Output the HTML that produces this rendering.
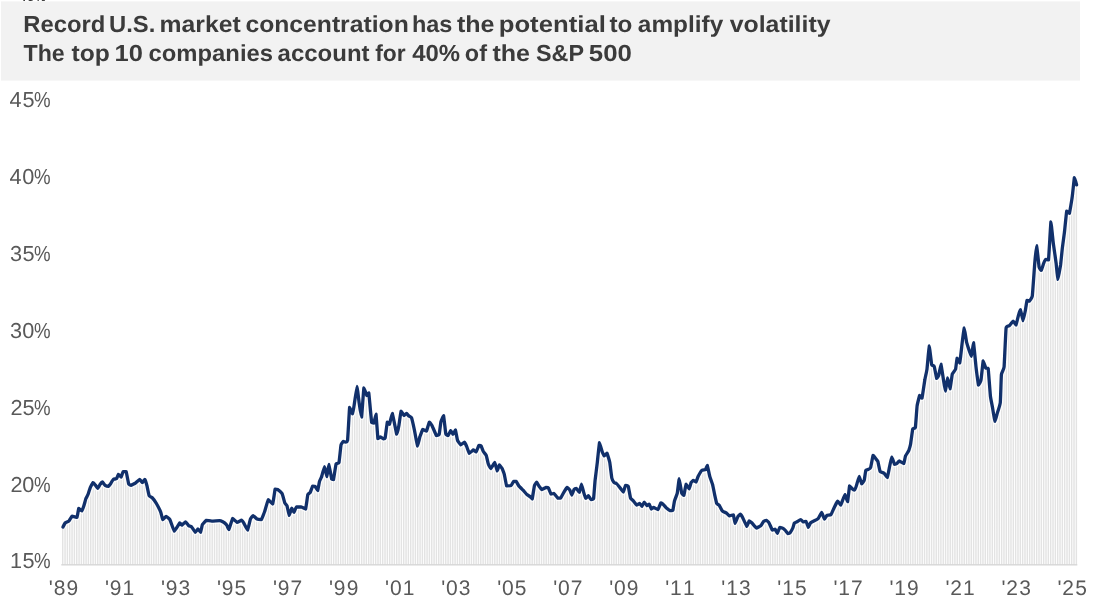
<!DOCTYPE html>
<html lang="en"><head><meta charset="utf-8"><title>Record U.S. market concentration</title>
<style>
html,body{margin:0;padding:0;background:#fff;}
body{width:1093px;height:608px;overflow:hidden;}
svg{display:block;}
text{font-family:"Liberation Sans",sans-serif;text-rendering:geometricPrecision;}
.ttl{font-size:23.2px;font-weight:bold;fill:#3b3b3b;}
.top{font-size:11.8px;font-weight:bold;fill:#333;}
.yl{font-size:21.7px;fill:#595959;}
.xl{font-size:21.0px;fill:#595959;}
</style></head><body>
<svg width="1093" height="608" viewBox="0 0 1093 608">
<rect x="0" y="0" width="1093" height="608" fill="#fff"/>
<text class="top" x="19.4 27.4 35.2" y="0.9">45%</text>
<rect x="1" y="1.4" width="1079" height="79.2" fill="#f2f2f2"/>
<text y="32.4" class="ttl"><tspan x="23.25" textLength="82.11" lengthAdjust="spacingAndGlyphs">Record</tspan> <tspan x="109.07" textLength="46.29" lengthAdjust="spacingAndGlyphs">U.S.</tspan> <tspan x="159.49" textLength="81.18" lengthAdjust="spacingAndGlyphs">market</tspan> <tspan x="245.41" textLength="163.32" lengthAdjust="spacingAndGlyphs">concentration</tspan> <tspan x="411.96" textLength="40.46" lengthAdjust="spacingAndGlyphs">has</tspan> <tspan x="456.95" textLength="37.63" lengthAdjust="spacingAndGlyphs">the</tspan> <tspan x="498.73" textLength="107.11" lengthAdjust="spacingAndGlyphs">potential</tspan> <tspan x="609.46" textLength="22.89" lengthAdjust="spacingAndGlyphs">to</tspan> <tspan x="637.87" textLength="85.38" lengthAdjust="spacingAndGlyphs">amplify</tspan> <tspan x="729.68" textLength="100.89" lengthAdjust="spacingAndGlyphs">volatility</tspan></text>
<text y="61.3" class="ttl"><tspan x="23.57" textLength="41.19" lengthAdjust="spacingAndGlyphs">The</tspan> <tspan x="71.45" textLength="38.32" lengthAdjust="spacingAndGlyphs">top</tspan> <tspan x="114.54" textLength="28.33" lengthAdjust="spacingAndGlyphs">10</tspan> <tspan x="148.55" textLength="124.51" lengthAdjust="spacingAndGlyphs">companies</tspan> <tspan x="277.58" textLength="91.95" lengthAdjust="spacingAndGlyphs">account</tspan> <tspan x="375.16" textLength="30.44" lengthAdjust="spacingAndGlyphs">for</tspan> <tspan x="412.24" textLength="47.89" lengthAdjust="spacingAndGlyphs">40%</tspan> <tspan x="464.86" textLength="22.11" lengthAdjust="spacingAndGlyphs">of</tspan> <tspan x="492.45" textLength="37.63" lengthAdjust="spacingAndGlyphs">the</tspan> <tspan x="536.01" textLength="47.63" lengthAdjust="spacingAndGlyphs">S&amp;P</tspan> <tspan x="588.83" textLength="43.07" lengthAdjust="spacingAndGlyphs">500</tspan></text>
<path fill="#e3e3e3" d="M62.00 564.8V527.0H63.44V564.8zM64.34 564.8V523.1H65.77V564.8zM66.67 564.8V521.9H68.11V564.8zM69.01 564.8V519.8H70.44V564.8zM71.34 564.8V516.3H72.78V564.8zM73.68 564.8V516.7H75.11V564.8zM76.01 564.8V517.2H77.45V564.8zM78.35 564.8V508.8H79.78V564.8zM80.68 564.8V510.6H82.12V564.8zM83.02 564.8V506.2H84.46V564.8zM85.36 564.8V498.3H86.79V564.8zM87.69 564.8V493.3H89.13V564.8zM90.03 564.8V486.7H91.46V564.8zM92.36 564.8V482.7H93.80V564.8zM94.70 564.8V485.1H96.13V564.8zM97.03 564.8V488.3H98.47V564.8zM99.37 564.8V484.4H100.81V564.8zM101.71 564.8V482.0H103.14V564.8zM104.04 564.8V484.9H105.48V564.8zM106.38 564.8V486.0H107.81V564.8zM108.71 564.8V485.1H110.15V564.8zM111.05 564.8V481.9H112.48V564.8zM113.38 564.8V479.2H114.82V564.8zM115.72 564.8V478.7H117.15V564.8zM118.05 564.8V474.7H119.49V564.8zM120.39 564.8V477.1H121.83V564.8zM122.73 564.8V471.6H124.16V564.8zM125.06 564.8V471.6H126.50V564.8zM127.40 564.8V481.4H128.83V564.8zM129.73 564.8V484.9H131.17V564.8zM132.07 564.8V484.4H133.50V564.8zM134.40 564.8V483.2H135.84V564.8zM136.74 564.8V481.3H138.17V564.8zM139.07 564.8V479.3H140.51V564.8zM141.41 564.8V482.4H142.85V564.8zM143.75 564.8V479.7H145.18V564.8zM146.08 564.8V485.3H147.52V564.8zM148.42 564.8V495.5H149.85V564.8zM150.75 564.8V497.2H152.19V564.8zM153.09 564.8V500.0H154.52V564.8zM155.42 564.8V503.1H156.86V564.8zM157.76 564.8V507.7H159.20V564.8zM160.10 564.8V512.3H161.53V564.8zM162.43 564.8V519.3H163.87V564.8zM164.77 564.8V516.9H166.20V564.8zM167.10 564.8V517.8H168.54V564.8zM169.44 564.8V520.3H170.87V564.8zM171.77 564.8V526.4H173.21V564.8zM174.11 564.8V530.4H175.54V564.8zM176.44 564.8V526.9H177.88V564.8zM178.78 564.8V523.4H180.22V564.8zM181.12 564.8V524.9H182.55V564.8zM183.45 564.8V523.1H184.89V564.8zM185.79 564.8V522.9H187.22V564.8zM188.12 564.8V525.8H189.56V564.8zM190.46 564.8V526.5H191.89V564.8zM192.79 564.8V529.7H194.23V564.8zM195.13 564.8V531.6H196.56V564.8zM197.46 564.8V529.2H198.90V564.8zM199.80 564.8V532.2H201.24V564.8zM202.14 564.8V524.1H203.57V564.8zM204.47 564.8V521.6H205.91V564.8zM206.81 564.8V520.6H208.24V564.8zM209.14 564.8V520.9H210.58V564.8zM211.48 564.8V521.1H212.91V564.8zM213.81 564.8V521.0H215.25V564.8zM216.15 564.8V520.8H217.59V564.8zM218.49 564.8V520.7H219.92V564.8zM220.82 564.8V521.4H222.26V564.8zM223.16 564.8V522.7H224.59V564.8zM225.49 564.8V524.7H226.93V564.8zM227.83 564.8V528.8H229.26V564.8zM230.16 564.8V523.8H231.60V564.8zM232.50 564.8V519.0H233.93V564.8zM234.83 564.8V521.0H236.27V564.8zM237.17 564.8V522.0H238.61V564.8zM239.51 564.8V520.8H240.94V564.8zM241.84 564.8V521.5H243.28V564.8zM244.18 564.8V525.1H245.61V564.8zM246.51 564.8V529.4H247.95V564.8zM248.85 564.8V522.4H250.28V564.8zM251.18 564.8V517.2H252.62V564.8zM253.52 564.8V516.6H254.95V564.8zM255.85 564.8V518.7H257.29V564.8zM258.19 564.8V519.3H259.63V564.8zM260.53 564.8V519.6H261.96V564.8zM262.86 564.8V514.2H264.30V564.8zM265.20 564.8V507.4H266.63V564.8zM267.53 564.8V499.8H268.97V564.8zM269.87 564.8V501.9H271.30V564.8zM272.20 564.8V502.6H273.64V564.8zM274.54 564.8V489.2H275.98V564.8zM276.88 564.8V489.4H278.31V564.8zM279.21 564.8V491.5H280.65V564.8zM281.55 564.8V494.2H282.98V564.8zM283.88 564.8V502.2H285.32V564.8zM286.22 564.8V505.6H287.65V564.8zM288.55 564.8V515.2H289.99V564.8zM290.89 564.8V508.6H292.32V564.8zM293.22 564.8V512.2H294.66V564.8zM295.56 564.8V507.3H297.00V564.8zM297.90 564.8V507.0H299.33V564.8zM300.23 564.8V507.0H301.67V564.8zM302.57 564.8V507.9H304.00V564.8zM304.90 564.8V508.9H306.34V564.8zM307.24 564.8V494.6H308.67V564.8zM309.57 564.8V492.3H311.01V564.8zM311.91 564.8V486.1H313.34V564.8zM314.24 564.8V486.4H315.68V564.8zM316.58 564.8V489.9H318.02V564.8zM318.92 564.8V481.1H320.35V564.8zM321.25 564.8V475.5H322.69V564.8zM323.59 564.8V467.3H325.02V564.8zM325.92 564.8V475.4H327.36V564.8zM328.26 564.8V464.8H329.69V564.8zM330.59 564.8V477.1H332.03V564.8zM332.93 564.8V478.6H334.37V564.8zM335.27 564.8V464.5H336.70V564.8zM337.60 564.8V463.0H339.04V564.8zM339.94 564.8V448.1H341.37V564.8zM342.27 564.8V441.7H343.71V564.8zM344.61 564.8V442.1H346.04V564.8zM346.94 564.8V439.3H348.38V564.8zM349.28 564.8V408.4H350.71V564.8zM351.61 564.8V413.6H353.05V564.8zM353.95 564.8V401.7H355.39V564.8zM356.29 564.8V386.3H357.72V564.8zM358.62 564.8V404.1H360.06V564.8zM360.96 564.8V416.2H362.39V564.8zM363.29 564.8V388.2H364.73V564.8zM365.63 564.8V394.2H367.06V564.8zM367.96 564.8V393.1H369.40V564.8zM370.30 564.8V415.6H371.73V564.8zM372.63 564.8V422.9H374.07V564.8zM374.97 564.8V415.4H376.41V564.8zM377.31 564.8V438.5H378.74V564.8zM379.64 564.8V437.1H381.08V564.8zM381.98 564.8V438.4H383.41V564.8zM384.31 564.8V438.1H385.75V564.8zM386.65 564.8V422.2H388.08V564.8zM388.98 564.8V423.5H390.42V564.8zM391.32 564.8V414.3H392.76V564.8zM393.66 564.8V423.1H395.09V564.8zM395.99 564.8V434.2H397.43V564.8zM398.33 564.8V424.5H399.76V564.8zM400.66 564.8V411.5H402.10V564.8zM403.00 564.8V415.1H404.43V564.8zM405.33 564.8V413.9H406.77V564.8zM407.67 564.8V415.5H409.10V564.8zM410.00 564.8V417.2H411.44V564.8zM412.34 564.8V424.3H413.78V564.8zM414.68 564.8V435.1H416.11V564.8zM417.01 564.8V445.1H418.45V564.8zM419.35 564.8V436.3H420.78V564.8zM421.68 564.8V430.3H423.12V564.8zM424.02 564.8V430.4H425.45V564.8zM426.35 564.8V429.3H427.79V564.8zM428.69 564.8V422.2H430.12V564.8zM431.02 564.8V425.3H432.46V564.8zM433.36 564.8V430.3H434.80V564.8zM435.70 564.8V435.5H437.13V564.8zM438.03 564.8V434.4H439.47V564.8zM440.37 564.8V421.4H441.80V564.8zM442.70 564.8V416.1H444.14V564.8zM445.04 564.8V433.5H446.47V564.8zM447.37 564.8V435.3H448.81V564.8zM449.71 564.8V431.3H451.15V564.8zM452.05 564.8V434.0H453.48V564.8zM454.38 564.8V430.6H455.82V564.8zM456.72 564.8V439.7H458.15V564.8zM459.05 564.8V443.6H460.49V564.8zM461.39 564.8V443.9H462.82V564.8zM463.72 564.8V442.2H465.16V564.8zM466.06 564.8V446.8H467.49V564.8zM468.39 564.8V452.9H469.83V564.8zM470.73 564.8V451.6H472.17V564.8zM473.07 564.8V450.2H474.50V564.8zM475.40 564.8V451.9H476.84V564.8zM477.74 564.8V446.5H479.17V564.8zM480.07 564.8V445.9H481.51V564.8zM482.41 564.8V451.1H483.84V564.8zM484.74 564.8V454.3H486.18V564.8zM487.08 564.8V461.9H488.51V564.8zM489.41 564.8V467.5H490.85V564.8zM491.75 564.8V466.0H493.19V564.8zM494.09 564.8V462.5H495.52V564.8zM496.42 564.8V470.7H497.86V564.8zM498.76 564.8V464.9H500.19V564.8zM501.09 564.8V468.2H502.53V564.8zM503.43 564.8V474.1H504.86V564.8zM505.76 564.8V485.2H507.20V564.8zM508.10 564.8V485.7H509.54V564.8zM510.44 564.8V485.4H511.87V564.8zM512.77 564.8V481.7H514.21V564.8zM515.11 564.8V481.4H516.54V564.8zM517.44 564.8V484.8H518.88V564.8zM519.78 564.8V487.6H521.21V564.8zM522.11 564.8V489.9H523.55V564.8zM524.45 564.8V492.5H525.88V564.8zM526.78 564.8V494.9H528.22V564.8zM529.12 564.8V496.5H530.56V564.8zM531.46 564.8V499.0H532.89V564.8zM533.79 564.8V485.6H535.23V564.8zM536.13 564.8V482.4H537.56V564.8zM538.46 564.8V486.4H539.90V564.8zM540.80 564.8V489.3H542.23V564.8zM543.13 564.8V488.6H544.57V564.8zM545.47 564.8V487.4H546.90V564.8zM547.80 564.8V488.3H549.24V564.8zM550.14 564.8V493.7H551.58V564.8zM552.48 564.8V493.6H553.91V564.8zM554.81 564.8V495.4H556.25V564.8zM557.15 564.8V498.1H558.58V564.8zM559.48 564.8V498.1H560.92V564.8zM561.82 564.8V494.6H563.25V564.8zM564.15 564.8V490.6H565.59V564.8zM566.49 564.8V487.4H567.93V564.8zM568.83 564.8V489.8H570.26V564.8zM571.16 564.8V494.9H572.60V564.8zM573.50 564.8V489.3H574.93V564.8zM575.83 564.8V488.6H577.27V564.8zM578.17 564.8V491.8H579.60V564.8zM580.50 564.8V485.2H581.94V564.8zM582.84 564.8V491.9H584.27V564.8zM585.17 564.8V498.4H586.61V564.8zM587.51 564.8V495.9H588.95V564.8zM589.85 564.8V499.0H591.28V564.8zM592.18 564.8V498.7H593.62V564.8zM594.52 564.8V479.1H595.95V564.8zM596.85 564.8V460.1H598.29V564.8zM599.19 564.8V444.1H600.62V564.8zM601.52 564.8V451.8H602.96V564.8zM603.86 564.8V455.6H605.29V564.8zM606.19 564.8V453.3H607.63V564.8zM608.53 564.8V460.7H609.97V564.8zM610.87 564.8V476.3H612.30V564.8zM613.20 564.8V482.4H614.64V564.8zM615.54 564.8V483.4H616.97V564.8zM617.87 564.8V486.1H619.31V564.8zM620.21 564.8V489.0H621.64V564.8zM622.54 564.8V492.0H623.98V564.8zM624.88 564.8V485.3H626.32V564.8zM627.22 564.8V486.3H628.65V564.8zM629.55 564.8V496.8H630.99V564.8zM631.89 564.8V500.2H633.32V564.8zM634.22 564.8V503.0H635.66V564.8zM636.56 564.8V504.6H637.99V564.8zM638.89 564.8V503.6H640.33V564.8zM641.23 564.8V506.2H642.66V564.8zM643.56 564.8V502.2H645.00V564.8zM645.90 564.8V505.2H647.34V564.8zM648.24 564.8V504.3H649.67V564.8zM650.57 564.8V508.8H652.01V564.8zM652.91 564.8V507.4H654.34V564.8zM655.24 564.8V508.6H656.68V564.8zM657.58 564.8V508.9H659.01V564.8zM659.91 564.8V503.4H661.35V564.8zM662.25 564.8V504.1H663.68V564.8zM664.58 564.8V506.8H666.02V564.8zM666.92 564.8V508.9H668.36V564.8zM669.26 564.8V510.6H670.69V564.8zM671.59 564.8V510.2H673.03V564.8zM673.93 564.8V500.4H675.36V564.8zM676.26 564.8V494.0H677.70V564.8zM678.60 564.8V479.4H680.03V564.8zM680.93 564.8V492.8H682.37V564.8zM683.27 564.8V494.9H684.71V564.8zM685.61 564.8V484.5H687.04V564.8zM687.94 564.8V488.1H689.38V564.8zM690.28 564.8V483.0H691.71V564.8zM692.61 564.8V480.4H694.05V564.8zM694.95 564.8V481.8H696.38V564.8zM697.28 564.8V476.8H698.72V564.8zM699.62 564.8V472.9H701.05V564.8zM701.95 564.8V470.1H703.39V564.8zM704.29 564.8V469.8H705.73V564.8zM706.63 564.8V465.7H708.06V564.8zM708.96 564.8V476.0H710.40V564.8zM711.30 564.8V483.1H712.73V564.8zM713.63 564.8V493.2H715.07V564.8zM715.97 564.8V503.4H717.40V564.8zM718.30 564.8V505.1H719.74V564.8zM720.64 564.8V509.1H722.07V564.8zM722.97 564.8V511.7H724.41V564.8zM725.31 564.8V512.8H726.75V564.8zM727.65 564.8V514.9H729.08V564.8zM729.98 564.8V515.5H731.42V564.8zM732.32 564.8V514.9H733.75V564.8zM734.65 564.8V522.6H736.09V564.8zM736.99 564.8V517.0H738.42V564.8zM739.32 564.8V514.4H740.76V564.8zM741.66 564.8V517.2H743.10V564.8zM744.00 564.8V521.9H745.43V564.8zM746.33 564.8V525.7H747.77V564.8zM748.67 564.8V520.9H750.10V564.8zM751.00 564.8V522.8H752.44V564.8zM753.34 564.8V525.3H754.77V564.8zM755.67 564.8V528.0H757.11V564.8zM758.01 564.8V526.8H759.44V564.8zM760.34 564.8V525.4H761.78V564.8zM762.68 564.8V521.7H764.12V564.8zM765.02 564.8V520.5H766.45V564.8zM767.35 564.8V522.0H768.79V564.8zM769.69 564.8V525.8H771.12V564.8zM772.02 564.8V530.1H773.46V564.8zM774.36 564.8V529.1H775.79V564.8zM776.69 564.8V533.0H778.13V564.8zM779.03 564.8V527.5H780.46V564.8zM781.36 564.8V527.9H782.80V564.8zM783.70 564.8V529.7H785.14V564.8zM786.04 564.8V532.2H787.47V564.8zM788.37 564.8V533.1H789.81V564.8zM790.71 564.8V530.4H792.14V564.8zM793.04 564.8V525.0H794.48V564.8zM795.38 564.8V522.2H796.81V564.8zM797.71 564.8V521.0H799.15V564.8zM800.05 564.8V519.7H801.49V564.8zM802.39 564.8V521.8H803.82V564.8zM804.72 564.8V521.5H806.16V564.8zM807.06 564.8V525.8H808.49V564.8zM809.39 564.8V523.6H810.83V564.8zM811.73 564.8V521.8H813.16V564.8zM814.06 564.8V520.5H815.50V564.8zM816.40 564.8V519.2H817.83V564.8zM818.73 564.8V516.3H820.17V564.8zM821.07 564.8V512.7H822.51V564.8zM823.41 564.8V518.3H824.84V564.8zM825.74 564.8V516.0H827.18V564.8zM828.08 564.8V515.1H829.51V564.8zM830.41 564.8V514.1H831.85V564.8zM832.75 564.8V509.3H834.18V564.8zM835.08 564.8V504.8H836.52V564.8zM837.42 564.8V501.8H838.85V564.8zM839.75 564.8V504.8H841.19V564.8zM842.09 564.8V499.8H843.53V564.8zM844.43 564.8V495.2H845.86V564.8zM846.76 564.8V501.4H848.20V564.8zM849.10 564.8V486.0H850.53V564.8zM851.43 564.8V488.6H852.87V564.8zM853.77 564.8V490.0H855.20V564.8zM856.10 564.8V484.1H857.54V564.8zM858.44 564.8V476.5H859.88V564.8zM860.78 564.8V483.2H862.21V564.8zM863.11 564.8V480.8H864.55V564.8zM865.45 564.8V470.2H866.88V564.8zM867.78 564.8V469.1H869.22V564.8zM870.12 564.8V466.4H871.55V564.8zM872.45 564.8V455.7H873.89V564.8zM874.79 564.8V458.3H876.22V564.8zM877.12 564.8V461.4H878.56V564.8zM879.46 564.8V471.4H880.90V564.8zM881.80 564.8V472.5H883.23V564.8zM884.13 564.8V474.2H885.57V564.8zM886.47 564.8V477.3H887.90V564.8zM888.80 564.8V466.9H890.24V564.8zM891.14 564.8V457.3H892.57V564.8zM893.47 564.8V463.4H894.91V564.8zM895.81 564.8V463.7H897.24V564.8zM898.14 564.8V461.4H899.58V564.8zM900.48 564.8V462.1H901.92V564.8zM902.82 564.8V463.4H904.25V564.8zM905.15 564.8V455.4H906.59V564.8zM907.49 564.8V451.5H908.92V564.8zM909.82 564.8V444.2H911.26V564.8zM912.16 564.8V429.0H913.59V564.8zM914.49 564.8V427.5H915.93V564.8zM916.83 564.8V404.0H918.27V564.8zM919.17 564.8V395.8H920.60V564.8zM921.50 564.8V396.8H922.94V564.8zM923.84 564.8V381.7H925.27V564.8zM926.17 564.8V369.7H927.61V564.8zM928.51 564.8V346.1H929.94V564.8zM930.84 564.8V363.7H932.28V564.8zM933.18 564.8V366.1H934.61V564.8zM935.51 564.8V376.1H936.95V564.8zM937.85 564.8V375.5H939.29V564.8zM940.19 564.8V364.6H941.62V564.8zM942.52 564.8V378.4H943.96V564.8zM944.86 564.8V390.1H946.29V564.8zM947.19 564.8V379.3H948.63V564.8zM949.53 564.8V387.9H950.96V564.8zM951.86 564.8V373.6H953.30V564.8zM954.20 564.8V370.1H955.63V564.8zM956.53 564.8V358.4H957.97V564.8zM958.87 564.8V362.8H960.31V564.8zM961.21 564.8V345.3H962.64V564.8zM963.54 564.8V328.2H964.98V564.8zM965.88 564.8V342.0H967.31V564.8zM968.21 564.8V349.1H969.65V564.8zM970.55 564.8V356.0H971.98V564.8zM972.88 564.8V343.6H974.32V564.8zM975.22 564.8V366.3H976.66V564.8zM977.56 564.8V383.4H978.99V564.8zM979.89 564.8V380.9H981.33V564.8zM982.23 564.8V363.0H983.66V564.8zM984.56 564.8V366.8H986.00V564.8zM986.90 564.8V368.4H988.33V564.8zM989.23 564.8V390.4H990.67V564.8zM991.57 564.8V406.4H993.00V564.8zM993.90 564.8V419.3H995.34V564.8zM996.24 564.8V414.4H997.68V564.8zM998.58 564.8V406.2H1000.01V564.8zM1000.91 564.8V373.9H1002.35V564.8zM1003.25 564.8V367.3H1004.68V564.8zM1005.58 564.8V327.8H1007.02V564.8zM1007.92 564.8V326.1H1009.35V564.8zM1010.25 564.8V323.8H1011.69V564.8zM1012.59 564.8V321.3H1014.02V564.8zM1014.92 564.8V324.6H1016.36V564.8zM1017.26 564.8V317.2H1018.70V564.8zM1019.60 564.8V310.0H1021.03V564.8zM1021.93 564.8V318.9H1023.37V564.8zM1024.27 564.8V312.2H1025.70V564.8zM1026.60 564.8V300.4H1028.04V564.8zM1028.94 564.8V300.6H1030.37V564.8zM1031.27 564.8V296.5H1032.71V564.8zM1033.61 564.8V268.8H1035.05V564.8zM1035.95 564.8V245.9H1037.38V564.8zM1038.28 564.8V266.2H1039.72V564.8zM1040.62 564.8V270.3H1042.05V564.8zM1042.95 564.8V263.5H1044.39V564.8zM1045.29 564.8V259.5H1046.72V564.8zM1047.62 564.8V259.9H1049.06V564.8zM1049.96 564.8V225.4H1051.39V564.8zM1052.29 564.8V240.6H1053.73V564.8zM1054.63 564.8V257.8H1056.07V564.8zM1056.97 564.8V278.3H1058.40V564.8zM1059.30 564.8V267.9H1060.74V564.8zM1061.64 564.8V248.0H1063.07V564.8zM1063.97 564.8V230.0H1065.41V564.8zM1066.31 564.8V211.5H1067.74V564.8zM1068.64 564.8V213.4H1070.08V564.8zM1070.98 564.8V199.9H1072.41V564.8zM1073.31 564.8V180.8H1074.75V564.8zM1075.65 564.8V184.0H1077.09V564.8z"/>
<rect x="61.3" y="564.1" width="1016.0" height="1.4" fill="#d6d6d6"/>
<path fill="none" stroke="#fff" stroke-opacity="0.7" stroke-width="6.0" stroke-linejoin="round" stroke-linecap="butt" d="M63.0 527.0C63.1 526.8 64.8 523.3 65.1 523.0C65.4 522.7 68.5 521.5 68.8 521.2C69.1 520.9 71.7 516.4 72.1 516.2C72.5 516.2 76.7 517.3 77.0 517.3C77.3 516.9 78.5 508.8 78.7 508.5C78.9 508.5 81.5 510.9 81.8 510.9C82.0 510.8 83.5 506.9 83.7 506.3C83.9 505.7 85.7 499.2 85.9 498.6C86.1 498.0 87.9 494.8 88.1 494.2C88.3 493.6 90.1 488.1 90.3 487.5C90.5 486.9 92.8 482.7 93.0 482.6C93.2 482.6 95.0 484.5 95.2 484.8C95.4 485.1 97.5 488.4 97.8 488.4C98.0 488.4 100.0 484.5 100.2 484.2C100.4 483.9 102.2 482.0 102.4 482.0C102.6 482.1 104.8 485.1 105.1 485.3C105.4 485.5 108.1 486.4 108.4 486.4C108.7 486.3 110.3 484.1 110.6 483.7C110.8 483.3 113.1 479.6 113.4 479.3C113.7 479.1 116.2 478.9 116.5 478.7C116.8 478.4 118.2 474.4 118.4 474.3C118.6 474.3 120.9 477.1 121.1 477.1C121.3 477.0 122.8 471.9 123.1 471.6C123.3 471.6 125.8 471.6 126.1 471.6C126.4 472.2 128.4 483.0 128.6 483.7C128.8 484.4 130.7 485.3 131.0 485.3C131.3 485.3 135.0 483.4 135.4 483.1C135.8 482.8 139.5 479.3 139.8 479.3C140.1 479.3 142.1 482.6 142.3 482.6C142.6 482.6 144.6 479.3 144.8 479.3C145.0 479.5 146.8 485.1 147.0 485.9C147.2 486.7 148.9 495.2 149.2 495.8C149.4 496.4 151.6 497.1 152.0 497.5C152.4 497.9 156.0 502.8 156.4 503.5C156.8 504.2 160.5 511.5 160.8 512.3C161.1 513.1 162.5 519.4 162.8 519.6C163.1 519.6 165.7 516.3 166.1 516.3C166.5 516.3 169.5 518.9 169.9 519.6C170.3 520.3 173.8 531.0 174.3 531.2C174.8 531.2 179.4 523.2 179.8 522.9C180.2 522.9 181.7 525.1 182.0 525.1C182.3 525.0 185.3 521.8 185.6 521.8C185.9 521.8 188.6 525.7 188.9 525.9C189.2 526.1 191.1 526.3 191.4 526.6C191.7 526.9 195.0 532.2 195.3 532.3C195.6 532.3 197.7 529.0 198.0 529.0C198.3 529.0 200.4 532.3 200.6 532.3C200.8 532.1 202.1 525.2 202.4 524.6C202.7 524.0 205.8 520.6 206.3 520.4C206.8 520.4 211.1 521.1 211.8 521.1C212.5 521.1 218.9 520.7 219.5 520.7C220.1 520.7 222.4 521.6 222.8 521.8C223.2 522.0 226.4 524.7 226.7 525.1C227.0 525.5 228.6 529.5 228.9 529.5C229.2 529.2 232.3 518.9 232.7 518.5C233.1 518.5 236.7 522.3 237.1 522.4C237.5 522.4 241.2 520.2 241.5 520.2C241.8 520.2 243.4 522.4 243.7 522.9C244.0 523.4 247.3 530.1 247.6 530.1C247.9 529.9 250.1 519.8 250.4 519.1C250.7 518.4 252.8 515.6 253.1 515.6C253.4 515.6 256.6 518.9 257.0 519.1C257.4 519.3 261.0 519.6 261.4 519.6C261.8 519.2 264.4 512.4 264.7 511.4C265.0 510.4 267.9 500.0 268.3 499.6C268.7 499.6 272.4 504.0 272.7 504.0C273.0 503.5 274.9 489.9 275.1 489.2C275.4 489.2 277.3 489.2 277.7 489.4C278.1 489.6 281.7 492.9 282.1 493.6C282.5 494.3 284.6 502.3 284.8 502.9C285.0 503.5 286.8 505.1 287.0 505.7C287.2 506.3 289.0 515.3 289.2 515.4C289.4 515.4 291.6 508.3 291.8 508.1C292.0 508.1 293.7 512.3 293.9 512.3C294.1 512.2 296.0 507.3 296.4 507.0C296.8 507.0 300.9 507.0 301.4 507.0C301.9 507.1 305.3 509.0 305.6 509.0C305.9 508.4 307.6 495.5 307.8 494.7C308.0 493.9 310.0 492.9 310.2 492.5C310.4 492.1 312.4 486.4 312.6 486.1C312.8 486.1 314.8 486.2 315.1 486.4C315.4 486.6 317.5 490.5 317.7 490.5C317.9 490.2 319.3 482.1 319.5 481.4C319.7 480.7 321.4 477.2 321.7 476.5C321.9 475.8 324.2 466.6 324.5 466.6C324.8 466.6 326.7 476.5 326.9 476.5C327.1 476.4 328.7 464.4 328.9 464.4C329.1 464.5 331.5 478.4 331.7 479.2C331.9 479.5 333.3 479.5 333.5 479.5C333.7 478.7 335.8 464.6 336.1 463.8C336.4 463.0 338.8 463.6 339.0 462.7C339.2 461.8 340.8 446.1 341.0 445.0C341.2 443.9 343.0 441.5 343.2 441.4C343.4 441.4 345.2 442.1 345.4 442.1C345.6 442.0 347.4 442.0 347.6 440.3C347.8 438.6 349.4 408.8 349.6 407.5C349.8 407.5 352.2 413.8 352.4 413.8C352.6 413.6 354.3 404.2 354.5 402.8C354.7 401.4 356.8 386.3 357.0 386.3C357.2 386.3 359.0 401.8 359.2 403.3C359.4 404.8 361.4 417.1 361.6 417.1C361.8 416.3 363.6 389.0 363.9 387.9C364.2 387.9 366.7 395.4 366.9 395.6C367.1 395.6 368.6 392.9 368.8 392.9C369.0 394.2 371.4 421.1 371.7 422.6C372.0 423.0 373.7 423.0 373.9 423.0C374.1 422.6 375.8 414.1 376.0 414.1C376.2 414.9 377.7 437.5 377.9 438.6C378.1 438.6 380.2 437.0 380.5 437.0C380.8 437.0 383.2 438.7 383.4 438.8C383.6 438.8 384.9 438.8 385.1 438.1C385.3 437.3 387.1 422.8 387.3 422.1C387.5 422.1 389.2 424.3 389.5 424.3C389.8 423.9 391.9 413.3 392.3 413.3C392.7 413.8 396.4 433.6 396.7 434.2C397.0 434.2 398.7 426.6 398.9 425.4C399.1 424.2 400.8 411.6 401.1 411.1C401.4 411.1 403.7 415.4 404.0 415.5C404.3 415.5 406.4 413.5 406.6 413.5C406.8 413.5 408.6 415.8 408.8 416.0C409.0 416.2 411.2 417.0 411.5 417.7C411.8 418.4 414.1 428.6 414.4 430.0C414.7 431.4 417.2 445.7 417.5 446.0C417.8 446.0 419.6 437.5 419.9 436.7C420.2 435.9 422.4 429.8 422.7 429.5C423.0 429.5 426.2 431.1 426.5 431.1C426.8 430.7 429.0 422.4 429.3 422.1C429.6 422.1 431.6 424.9 432.0 425.6C432.4 426.3 436.0 435.1 436.4 435.5C436.8 435.5 439.0 434.9 439.2 434.2C439.4 433.5 440.7 422.7 440.9 421.8C441.1 420.9 443.4 415.7 443.6 415.7C443.8 416.3 445.6 432.9 445.8 433.9C446.0 434.9 447.8 435.5 448.0 435.5C448.2 435.3 450.6 430.7 450.8 430.6C451.1 430.6 452.8 434.4 453.0 434.4C453.2 434.4 455.2 430.0 455.4 430.0C455.6 430.3 457.3 439.8 457.6 440.5C457.9 441.2 460.4 444.8 460.7 444.9C461.0 444.9 464.2 442.2 464.5 442.2C464.8 442.3 466.5 446.0 466.7 446.6C466.9 447.2 469.0 453.2 469.3 453.4C469.6 453.4 473.1 450.0 473.4 449.9C473.7 449.9 475.8 451.9 476.1 451.9C476.4 451.7 478.6 445.8 478.9 445.5C479.1 445.5 480.9 445.7 481.1 446.0C481.3 446.3 483.0 451.0 483.3 451.5C483.6 452.0 486.1 454.8 486.3 455.4C486.5 456.0 488.0 462.9 488.2 463.6C488.4 464.3 490.4 468.6 490.7 468.6C491.0 468.5 494.5 462.5 494.8 462.5C495.1 462.6 497.0 470.8 497.2 470.9C497.4 470.9 499.1 464.9 499.4 464.8C499.6 464.8 501.9 468.2 502.2 468.7C502.4 469.2 504.2 473.9 504.4 474.8C504.6 475.7 506.3 485.3 506.6 485.8C506.9 485.8 510.6 485.8 511.0 485.6C511.4 485.4 513.4 481.6 513.7 481.4C514.0 481.4 516.0 481.4 516.2 481.4C516.5 481.6 518.4 485.4 518.7 485.8C519.0 486.2 522.7 489.8 523.1 490.2C523.5 490.6 526.6 494.3 527.0 494.6C527.4 494.9 530.0 496.6 530.3 496.8C530.6 497.0 532.0 499.0 532.2 499.0C532.4 498.4 534.2 486.6 534.4 485.8C534.6 485.0 536.5 482.2 536.7 482.2C536.9 482.2 538.8 485.9 539.1 486.3C539.4 486.7 541.4 489.5 541.8 489.6C542.2 489.6 545.9 487.5 546.2 487.4C546.5 487.4 548.2 487.7 548.4 488.0C548.6 488.3 550.7 493.7 551.0 494.0C551.3 494.0 553.7 493.5 554.0 493.5C554.3 493.7 557.5 497.9 557.8 498.1C558.1 498.1 560.3 498.1 560.6 498.1C560.9 497.8 564.1 491.8 564.4 491.3C564.7 490.8 566.9 487.5 567.2 487.4C567.5 487.4 569.7 489.8 569.9 490.2C570.1 490.6 571.6 495.1 571.8 495.1C572.0 495.1 573.9 489.6 574.1 489.3C574.3 489.0 576.2 488.5 576.5 488.5C576.8 488.7 579.0 492.4 579.3 492.4C579.5 492.2 581.3 484.1 581.5 484.1C581.7 484.1 583.5 491.7 583.7 492.4C583.9 493.1 585.7 498.2 585.9 498.4C586.1 498.4 588.1 495.7 588.4 495.7C588.6 495.8 590.6 499.4 590.9 499.5C591.2 499.5 593.4 499.4 593.6 498.4C593.8 497.4 594.9 482.0 595.1 480.2C595.3 478.4 597.1 464.4 597.3 462.5C597.5 460.6 599.3 443.2 599.5 442.7C599.7 442.7 601.9 450.8 602.1 451.5C602.3 452.2 604.1 455.8 604.3 455.9C604.5 455.9 606.7 453.2 607.0 453.2C607.3 453.5 609.6 461.3 609.8 462.5C610.0 463.7 611.6 477.0 611.8 478.0C612.0 479.0 613.7 482.1 613.9 482.4C614.1 482.7 616.1 483.3 616.4 483.5C616.7 483.7 618.9 486.4 619.2 486.8C619.5 487.2 623.0 492.0 623.3 492.0C623.6 491.9 625.2 485.6 625.5 485.3C625.8 485.3 628.0 485.8 628.3 486.4C628.5 487.0 630.3 497.3 630.5 498.0C630.7 498.7 632.9 500.4 633.2 500.8C633.5 501.2 636.2 504.9 636.5 505.0C636.8 505.0 639.5 503.5 639.8 503.5C640.1 503.6 641.8 506.3 642.0 506.3C642.2 506.2 644.0 502.1 644.2 502.1C644.5 502.1 646.8 505.6 647.0 505.7C647.2 505.7 649.0 504.1 649.2 504.1C649.4 504.3 651.2 508.8 651.4 509.0C651.6 509.0 653.3 507.4 653.6 507.4C653.9 507.4 657.6 509.6 658.0 509.6C658.4 509.4 660.5 503.3 660.8 503.0C661.0 503.0 662.7 503.9 663.0 504.1C663.3 504.3 665.9 507.6 666.3 507.9C666.7 508.2 669.8 510.6 670.1 510.7C670.4 510.7 672.7 510.6 672.9 510.1C673.1 509.6 674.3 501.7 674.5 500.8C674.7 499.9 677.1 494.2 677.3 493.1C677.5 492.0 679.0 478.7 679.2 478.7C679.4 478.7 681.5 492.3 681.7 493.1C681.9 493.9 683.7 495.3 683.9 495.3C684.1 494.9 685.8 484.5 686.1 484.2C686.4 484.2 689.0 488.9 689.2 488.9C689.5 488.8 690.9 483.0 691.1 482.6C691.3 482.2 693.1 480.4 693.3 480.4C693.5 480.4 695.8 482.0 696.0 482.0C696.2 481.8 697.9 476.9 698.2 476.3C698.5 475.7 701.6 470.5 702.0 470.2C702.4 469.9 705.1 469.9 705.4 469.7C705.7 469.5 707.1 465.5 707.3 465.5C707.5 465.8 709.5 475.5 709.8 476.5C710.1 477.5 712.4 483.9 712.6 484.8C712.9 485.7 714.6 494.4 714.8 495.3C715.0 496.2 716.5 503.0 716.7 503.5C716.9 504.0 718.9 504.8 719.2 505.2C719.5 505.6 722.1 510.8 722.5 511.2C722.9 511.6 726.0 512.7 726.3 512.9C726.6 513.1 729.0 515.8 729.4 515.9C729.8 515.9 733.0 514.8 733.3 514.8C733.6 515.2 734.9 523.2 735.1 523.3C735.3 523.3 737.4 517.5 737.7 517.0C738.0 516.5 740.0 514.2 740.2 514.2C740.4 514.2 742.3 516.9 742.6 517.5C742.9 518.1 746.5 526.1 746.8 526.3C747.1 526.3 748.9 521.0 749.2 520.8C749.5 520.8 751.6 522.6 752.0 523.0C752.4 523.4 756.0 527.9 756.4 528.0C756.8 528.0 760.4 526.1 760.8 525.8C761.2 525.5 763.3 521.7 763.6 521.4C763.9 521.1 766.0 520.3 766.3 520.3C766.6 520.4 768.8 522.5 769.1 523.0C769.4 523.5 772.1 529.9 772.4 530.2C772.7 530.2 774.9 529.1 775.1 529.1C775.3 529.3 777.1 533.3 777.3 533.3C777.5 533.2 779.5 527.7 779.8 527.4C780.0 527.4 782.0 527.9 782.3 528.0C782.6 528.1 784.8 529.9 785.1 530.2C785.4 530.5 787.6 533.4 787.8 533.5C788.0 533.5 789.8 533.2 790.0 532.9C790.2 532.6 792.6 528.5 792.8 528.0C793.0 527.5 794.2 523.3 794.4 523.0C794.6 522.7 797.4 521.6 797.7 521.4C798.0 521.2 800.5 519.7 800.8 519.7C801.1 519.7 802.9 521.8 803.2 521.9C803.5 521.9 805.7 521.4 806.0 521.4C806.3 521.7 808.2 527.3 808.4 527.4C808.6 527.4 810.1 523.3 810.4 523.0C810.7 522.7 813.9 521.0 814.3 520.8C814.7 520.6 817.7 519.0 818.1 518.6C818.5 518.2 821.4 512.5 821.7 512.5C822.0 512.5 824.2 519.1 824.5 519.2C824.8 519.2 826.6 515.5 826.9 515.3C827.2 515.1 830.5 515.1 830.8 514.8C831.1 514.5 833.2 509.9 833.5 509.2C833.8 508.5 837.3 501.4 837.7 501.2C838.1 501.2 840.5 505.1 840.7 505.1C841.0 505.0 842.5 500.6 842.7 500.1C842.9 499.6 844.7 494.6 844.9 494.6C845.1 494.7 847.4 501.7 847.6 501.7C847.8 501.3 849.4 486.5 849.6 485.8C849.8 485.8 851.8 488.3 852.0 488.5C852.2 488.7 854.2 490.0 854.5 490.0C854.8 489.8 856.8 484.3 857.0 483.6C857.2 482.9 859.0 476.4 859.2 476.4C859.4 476.4 861.5 483.6 861.7 483.8C862.0 483.8 864.0 481.0 864.2 480.3C864.4 479.6 865.6 470.8 865.8 470.3C866.0 469.8 867.8 469.6 868.0 469.5C868.2 469.4 870.4 468.3 870.6 467.6C870.9 466.9 872.8 456.0 873.0 455.5C873.2 455.5 875.2 457.9 875.4 458.2C875.6 458.5 877.7 460.8 877.9 461.5C878.1 462.2 879.8 470.8 880.1 471.4C880.4 472.0 883.6 472.8 884.0 473.1C884.4 473.4 887.0 477.5 887.3 477.5C887.6 477.2 889.3 468.0 889.5 467.0C889.7 466.0 891.6 457.2 891.9 457.1C892.1 457.1 894.3 464.0 894.5 464.3C894.7 464.3 896.5 463.9 896.7 463.7C896.9 463.5 898.8 461.0 899.2 461.0C899.6 461.0 903.5 463.5 903.8 463.5C904.1 463.2 905.2 456.6 905.5 456.0C905.8 455.4 908.5 451.1 908.8 450.5C909.0 449.9 910.3 445.6 910.5 444.5C910.7 443.4 912.5 430.0 912.7 429.1C912.9 428.2 915.2 428.6 915.4 427.4C915.6 426.2 916.9 407.5 917.1 405.9C917.3 404.3 919.4 395.9 919.6 395.5C919.8 395.5 921.7 398.2 922.0 398.2C922.3 397.4 924.5 381.6 924.8 380.1C925.0 378.6 926.8 370.8 927.0 369.1C927.2 367.4 929.0 346.1 929.2 345.9C929.4 345.9 931.5 363.7 931.7 364.7C932.0 365.7 934.0 365.6 934.2 366.3C934.5 367.0 936.5 378.0 936.7 378.4C936.9 378.4 938.6 375.8 938.8 375.1C939.0 374.4 940.8 364.1 941.0 364.1C941.2 364.4 943.3 378.8 943.5 380.1C943.7 381.5 945.2 391.1 945.4 391.1C945.6 391.0 947.4 378.0 947.6 377.9C947.8 377.9 949.9 388.9 950.1 388.9C950.3 388.7 952.0 375.0 952.3 374.0C952.6 373.0 955.4 369.9 955.6 369.1C955.8 368.3 956.9 358.4 957.1 358.1C957.3 358.1 959.5 363.0 959.7 363.0C959.9 362.4 961.5 348.8 961.7 347.0C961.9 345.2 964.0 328.0 964.2 327.8C964.5 327.8 966.3 341.2 966.7 342.6C967.1 344.0 971.1 356.4 971.4 356.4C971.7 356.4 973.3 342.6 973.5 342.6C973.7 343.1 975.8 364.8 976.0 366.9C976.2 369.0 978.2 384.4 978.5 385.1C978.8 385.1 980.8 381.3 981.0 380.1C981.2 378.9 983.0 361.4 983.2 360.8C983.4 360.8 985.5 367.6 985.7 368.0C986.0 368.4 988.0 368.0 988.2 368.5C988.4 369.9 990.2 394.0 990.4 396.0C990.6 398.0 992.4 406.8 992.6 408.1C992.8 409.4 994.8 421.2 995.0 421.4C995.2 421.4 997.2 413.4 997.5 412.5C997.8 411.6 1000.1 404.5 1000.3 402.6C1000.5 400.7 1001.2 376.4 1001.4 374.6C1001.6 372.8 1003.9 369.2 1004.1 366.9C1004.3 364.6 1005.8 330.0 1006.1 327.9C1006.4 325.8 1009.0 325.9 1009.4 325.6C1009.8 325.3 1012.9 321.2 1013.2 321.2C1013.5 321.2 1015.8 325.1 1016.0 325.1C1016.2 324.9 1018.0 317.1 1018.2 316.3C1018.4 315.5 1020.2 309.7 1020.4 309.7C1020.6 309.9 1022.9 320.6 1023.1 320.7C1023.3 320.7 1025.1 311.8 1025.3 310.8C1025.5 309.8 1026.8 300.8 1027.0 300.3C1027.2 300.3 1029.1 301.1 1029.4 301.1C1029.7 300.9 1032.0 297.8 1032.3 295.9C1032.6 294.0 1034.5 266.3 1034.7 263.8C1034.9 261.3 1036.5 245.6 1036.7 245.6C1036.9 245.8 1038.9 265.9 1039.1 267.1C1039.3 268.3 1041.1 270.4 1041.3 270.4C1041.5 270.2 1043.3 264.4 1043.5 263.8C1043.7 263.2 1045.5 259.6 1045.7 259.4C1046.0 259.4 1048.2 259.9 1048.5 259.9C1048.8 258.0 1050.7 222.7 1050.9 221.9C1051.1 221.9 1053.1 241.9 1053.4 244.0C1053.7 246.1 1056.0 262.0 1056.2 263.8C1056.4 265.6 1057.6 279.3 1057.8 279.4C1058.0 279.4 1060.4 266.4 1060.6 264.9C1060.8 263.3 1062.1 250.1 1062.3 248.4C1062.5 246.7 1064.3 233.7 1064.5 231.8C1064.7 229.9 1066.5 212.1 1066.7 211.2C1066.9 211.2 1069.1 213.4 1069.4 213.4C1069.7 212.7 1072.0 198.7 1072.2 196.9C1072.5 195.1 1074.2 178.2 1074.4 177.6C1074.6 177.6 1076.5 184.4 1076.6 184.8"/>
<path fill="none" stroke="#11306b" stroke-width="3.3" stroke-linejoin="round" stroke-linecap="round" d="M63.0 527.0C63.1 526.8 64.8 523.3 65.1 523.0C65.4 522.7 68.5 521.5 68.8 521.2C69.1 520.9 71.7 516.4 72.1 516.2C72.5 516.2 76.7 517.3 77.0 517.3C77.3 516.9 78.5 508.8 78.7 508.5C78.9 508.5 81.5 510.9 81.8 510.9C82.0 510.8 83.5 506.9 83.7 506.3C83.9 505.7 85.7 499.2 85.9 498.6C86.1 498.0 87.9 494.8 88.1 494.2C88.3 493.6 90.1 488.1 90.3 487.5C90.5 486.9 92.8 482.7 93.0 482.6C93.2 482.6 95.0 484.5 95.2 484.8C95.4 485.1 97.5 488.4 97.8 488.4C98.0 488.4 100.0 484.5 100.2 484.2C100.4 483.9 102.2 482.0 102.4 482.0C102.6 482.1 104.8 485.1 105.1 485.3C105.4 485.5 108.1 486.4 108.4 486.4C108.7 486.3 110.3 484.1 110.6 483.7C110.8 483.3 113.1 479.6 113.4 479.3C113.7 479.1 116.2 478.9 116.5 478.7C116.8 478.4 118.2 474.4 118.4 474.3C118.6 474.3 120.9 477.1 121.1 477.1C121.3 477.0 122.8 471.9 123.1 471.6C123.3 471.6 125.8 471.6 126.1 471.6C126.4 472.2 128.4 483.0 128.6 483.7C128.8 484.4 130.7 485.3 131.0 485.3C131.3 485.3 135.0 483.4 135.4 483.1C135.8 482.8 139.5 479.3 139.8 479.3C140.1 479.3 142.1 482.6 142.3 482.6C142.6 482.6 144.6 479.3 144.8 479.3C145.0 479.5 146.8 485.1 147.0 485.9C147.2 486.7 148.9 495.2 149.2 495.8C149.4 496.4 151.6 497.1 152.0 497.5C152.4 497.9 156.0 502.8 156.4 503.5C156.8 504.2 160.5 511.5 160.8 512.3C161.1 513.1 162.5 519.4 162.8 519.6C163.1 519.6 165.7 516.3 166.1 516.3C166.5 516.3 169.5 518.9 169.9 519.6C170.3 520.3 173.8 531.0 174.3 531.2C174.8 531.2 179.4 523.2 179.8 522.9C180.2 522.9 181.7 525.1 182.0 525.1C182.3 525.0 185.3 521.8 185.6 521.8C185.9 521.8 188.6 525.7 188.9 525.9C189.2 526.1 191.1 526.3 191.4 526.6C191.7 526.9 195.0 532.2 195.3 532.3C195.6 532.3 197.7 529.0 198.0 529.0C198.3 529.0 200.4 532.3 200.6 532.3C200.8 532.1 202.1 525.2 202.4 524.6C202.7 524.0 205.8 520.6 206.3 520.4C206.8 520.4 211.1 521.1 211.8 521.1C212.5 521.1 218.9 520.7 219.5 520.7C220.1 520.7 222.4 521.6 222.8 521.8C223.2 522.0 226.4 524.7 226.7 525.1C227.0 525.5 228.6 529.5 228.9 529.5C229.2 529.2 232.3 518.9 232.7 518.5C233.1 518.5 236.7 522.3 237.1 522.4C237.5 522.4 241.2 520.2 241.5 520.2C241.8 520.2 243.4 522.4 243.7 522.9C244.0 523.4 247.3 530.1 247.6 530.1C247.9 529.9 250.1 519.8 250.4 519.1C250.7 518.4 252.8 515.6 253.1 515.6C253.4 515.6 256.6 518.9 257.0 519.1C257.4 519.3 261.0 519.6 261.4 519.6C261.8 519.2 264.4 512.4 264.7 511.4C265.0 510.4 267.9 500.0 268.3 499.6C268.7 499.6 272.4 504.0 272.7 504.0C273.0 503.5 274.9 489.9 275.1 489.2C275.4 489.2 277.3 489.2 277.7 489.4C278.1 489.6 281.7 492.9 282.1 493.6C282.5 494.3 284.6 502.3 284.8 502.9C285.0 503.5 286.8 505.1 287.0 505.7C287.2 506.3 289.0 515.3 289.2 515.4C289.4 515.4 291.6 508.3 291.8 508.1C292.0 508.1 293.7 512.3 293.9 512.3C294.1 512.2 296.0 507.3 296.4 507.0C296.8 507.0 300.9 507.0 301.4 507.0C301.9 507.1 305.3 509.0 305.6 509.0C305.9 508.4 307.6 495.5 307.8 494.7C308.0 493.9 310.0 492.9 310.2 492.5C310.4 492.1 312.4 486.4 312.6 486.1C312.8 486.1 314.8 486.2 315.1 486.4C315.4 486.6 317.5 490.5 317.7 490.5C317.9 490.2 319.3 482.1 319.5 481.4C319.7 480.7 321.4 477.2 321.7 476.5C321.9 475.8 324.2 466.6 324.5 466.6C324.8 466.6 326.7 476.5 326.9 476.5C327.1 476.4 328.7 464.4 328.9 464.4C329.1 464.5 331.5 478.4 331.7 479.2C331.9 479.5 333.3 479.5 333.5 479.5C333.7 478.7 335.8 464.6 336.1 463.8C336.4 463.0 338.8 463.6 339.0 462.7C339.2 461.8 340.8 446.1 341.0 445.0C341.2 443.9 343.0 441.5 343.2 441.4C343.4 441.4 345.2 442.1 345.4 442.1C345.6 442.0 347.4 442.0 347.6 440.3C347.8 438.6 349.4 408.8 349.6 407.5C349.8 407.5 352.2 413.8 352.4 413.8C352.6 413.6 354.3 404.2 354.5 402.8C354.7 401.4 356.8 386.3 357.0 386.3C357.2 386.3 359.0 401.8 359.2 403.3C359.4 404.8 361.4 417.1 361.6 417.1C361.8 416.3 363.6 389.0 363.9 387.9C364.2 387.9 366.7 395.4 366.9 395.6C367.1 395.6 368.6 392.9 368.8 392.9C369.0 394.2 371.4 421.1 371.7 422.6C372.0 423.0 373.7 423.0 373.9 423.0C374.1 422.6 375.8 414.1 376.0 414.1C376.2 414.9 377.7 437.5 377.9 438.6C378.1 438.6 380.2 437.0 380.5 437.0C380.8 437.0 383.2 438.7 383.4 438.8C383.6 438.8 384.9 438.8 385.1 438.1C385.3 437.3 387.1 422.8 387.3 422.1C387.5 422.1 389.2 424.3 389.5 424.3C389.8 423.9 391.9 413.3 392.3 413.3C392.7 413.8 396.4 433.6 396.7 434.2C397.0 434.2 398.7 426.6 398.9 425.4C399.1 424.2 400.8 411.6 401.1 411.1C401.4 411.1 403.7 415.4 404.0 415.5C404.3 415.5 406.4 413.5 406.6 413.5C406.8 413.5 408.6 415.8 408.8 416.0C409.0 416.2 411.2 417.0 411.5 417.7C411.8 418.4 414.1 428.6 414.4 430.0C414.7 431.4 417.2 445.7 417.5 446.0C417.8 446.0 419.6 437.5 419.9 436.7C420.2 435.9 422.4 429.8 422.7 429.5C423.0 429.5 426.2 431.1 426.5 431.1C426.8 430.7 429.0 422.4 429.3 422.1C429.6 422.1 431.6 424.9 432.0 425.6C432.4 426.3 436.0 435.1 436.4 435.5C436.8 435.5 439.0 434.9 439.2 434.2C439.4 433.5 440.7 422.7 440.9 421.8C441.1 420.9 443.4 415.7 443.6 415.7C443.8 416.3 445.6 432.9 445.8 433.9C446.0 434.9 447.8 435.5 448.0 435.5C448.2 435.3 450.6 430.7 450.8 430.6C451.1 430.6 452.8 434.4 453.0 434.4C453.2 434.4 455.2 430.0 455.4 430.0C455.6 430.3 457.3 439.8 457.6 440.5C457.9 441.2 460.4 444.8 460.7 444.9C461.0 444.9 464.2 442.2 464.5 442.2C464.8 442.3 466.5 446.0 466.7 446.6C466.9 447.2 469.0 453.2 469.3 453.4C469.6 453.4 473.1 450.0 473.4 449.9C473.7 449.9 475.8 451.9 476.1 451.9C476.4 451.7 478.6 445.8 478.9 445.5C479.1 445.5 480.9 445.7 481.1 446.0C481.3 446.3 483.0 451.0 483.3 451.5C483.6 452.0 486.1 454.8 486.3 455.4C486.5 456.0 488.0 462.9 488.2 463.6C488.4 464.3 490.4 468.6 490.7 468.6C491.0 468.5 494.5 462.5 494.8 462.5C495.1 462.6 497.0 470.8 497.2 470.9C497.4 470.9 499.1 464.9 499.4 464.8C499.6 464.8 501.9 468.2 502.2 468.7C502.4 469.2 504.2 473.9 504.4 474.8C504.6 475.7 506.3 485.3 506.6 485.8C506.9 485.8 510.6 485.8 511.0 485.6C511.4 485.4 513.4 481.6 513.7 481.4C514.0 481.4 516.0 481.4 516.2 481.4C516.5 481.6 518.4 485.4 518.7 485.8C519.0 486.2 522.7 489.8 523.1 490.2C523.5 490.6 526.6 494.3 527.0 494.6C527.4 494.9 530.0 496.6 530.3 496.8C530.6 497.0 532.0 499.0 532.2 499.0C532.4 498.4 534.2 486.6 534.4 485.8C534.6 485.0 536.5 482.2 536.7 482.2C536.9 482.2 538.8 485.9 539.1 486.3C539.4 486.7 541.4 489.5 541.8 489.6C542.2 489.6 545.9 487.5 546.2 487.4C546.5 487.4 548.2 487.7 548.4 488.0C548.6 488.3 550.7 493.7 551.0 494.0C551.3 494.0 553.7 493.5 554.0 493.5C554.3 493.7 557.5 497.9 557.8 498.1C558.1 498.1 560.3 498.1 560.6 498.1C560.9 497.8 564.1 491.8 564.4 491.3C564.7 490.8 566.9 487.5 567.2 487.4C567.5 487.4 569.7 489.8 569.9 490.2C570.1 490.6 571.6 495.1 571.8 495.1C572.0 495.1 573.9 489.6 574.1 489.3C574.3 489.0 576.2 488.5 576.5 488.5C576.8 488.7 579.0 492.4 579.3 492.4C579.5 492.2 581.3 484.1 581.5 484.1C581.7 484.1 583.5 491.7 583.7 492.4C583.9 493.1 585.7 498.2 585.9 498.4C586.1 498.4 588.1 495.7 588.4 495.7C588.6 495.8 590.6 499.4 590.9 499.5C591.2 499.5 593.4 499.4 593.6 498.4C593.8 497.4 594.9 482.0 595.1 480.2C595.3 478.4 597.1 464.4 597.3 462.5C597.5 460.6 599.3 443.2 599.5 442.7C599.7 442.7 601.9 450.8 602.1 451.5C602.3 452.2 604.1 455.8 604.3 455.9C604.5 455.9 606.7 453.2 607.0 453.2C607.3 453.5 609.6 461.3 609.8 462.5C610.0 463.7 611.6 477.0 611.8 478.0C612.0 479.0 613.7 482.1 613.9 482.4C614.1 482.7 616.1 483.3 616.4 483.5C616.7 483.7 618.9 486.4 619.2 486.8C619.5 487.2 623.0 492.0 623.3 492.0C623.6 491.9 625.2 485.6 625.5 485.3C625.8 485.3 628.0 485.8 628.3 486.4C628.5 487.0 630.3 497.3 630.5 498.0C630.7 498.7 632.9 500.4 633.2 500.8C633.5 501.2 636.2 504.9 636.5 505.0C636.8 505.0 639.5 503.5 639.8 503.5C640.1 503.6 641.8 506.3 642.0 506.3C642.2 506.2 644.0 502.1 644.2 502.1C644.5 502.1 646.8 505.6 647.0 505.7C647.2 505.7 649.0 504.1 649.2 504.1C649.4 504.3 651.2 508.8 651.4 509.0C651.6 509.0 653.3 507.4 653.6 507.4C653.9 507.4 657.6 509.6 658.0 509.6C658.4 509.4 660.5 503.3 660.8 503.0C661.0 503.0 662.7 503.9 663.0 504.1C663.3 504.3 665.9 507.6 666.3 507.9C666.7 508.2 669.8 510.6 670.1 510.7C670.4 510.7 672.7 510.6 672.9 510.1C673.1 509.6 674.3 501.7 674.5 500.8C674.7 499.9 677.1 494.2 677.3 493.1C677.5 492.0 679.0 478.7 679.2 478.7C679.4 478.7 681.5 492.3 681.7 493.1C681.9 493.9 683.7 495.3 683.9 495.3C684.1 494.9 685.8 484.5 686.1 484.2C686.4 484.2 689.0 488.9 689.2 488.9C689.5 488.8 690.9 483.0 691.1 482.6C691.3 482.2 693.1 480.4 693.3 480.4C693.5 480.4 695.8 482.0 696.0 482.0C696.2 481.8 697.9 476.9 698.2 476.3C698.5 475.7 701.6 470.5 702.0 470.2C702.4 469.9 705.1 469.9 705.4 469.7C705.7 469.5 707.1 465.5 707.3 465.5C707.5 465.8 709.5 475.5 709.8 476.5C710.1 477.5 712.4 483.9 712.6 484.8C712.9 485.7 714.6 494.4 714.8 495.3C715.0 496.2 716.5 503.0 716.7 503.5C716.9 504.0 718.9 504.8 719.2 505.2C719.5 505.6 722.1 510.8 722.5 511.2C722.9 511.6 726.0 512.7 726.3 512.9C726.6 513.1 729.0 515.8 729.4 515.9C729.8 515.9 733.0 514.8 733.3 514.8C733.6 515.2 734.9 523.2 735.1 523.3C735.3 523.3 737.4 517.5 737.7 517.0C738.0 516.5 740.0 514.2 740.2 514.2C740.4 514.2 742.3 516.9 742.6 517.5C742.9 518.1 746.5 526.1 746.8 526.3C747.1 526.3 748.9 521.0 749.2 520.8C749.5 520.8 751.6 522.6 752.0 523.0C752.4 523.4 756.0 527.9 756.4 528.0C756.8 528.0 760.4 526.1 760.8 525.8C761.2 525.5 763.3 521.7 763.6 521.4C763.9 521.1 766.0 520.3 766.3 520.3C766.6 520.4 768.8 522.5 769.1 523.0C769.4 523.5 772.1 529.9 772.4 530.2C772.7 530.2 774.9 529.1 775.1 529.1C775.3 529.3 777.1 533.3 777.3 533.3C777.5 533.2 779.5 527.7 779.8 527.4C780.0 527.4 782.0 527.9 782.3 528.0C782.6 528.1 784.8 529.9 785.1 530.2C785.4 530.5 787.6 533.4 787.8 533.5C788.0 533.5 789.8 533.2 790.0 532.9C790.2 532.6 792.6 528.5 792.8 528.0C793.0 527.5 794.2 523.3 794.4 523.0C794.6 522.7 797.4 521.6 797.7 521.4C798.0 521.2 800.5 519.7 800.8 519.7C801.1 519.7 802.9 521.8 803.2 521.9C803.5 521.9 805.7 521.4 806.0 521.4C806.3 521.7 808.2 527.3 808.4 527.4C808.6 527.4 810.1 523.3 810.4 523.0C810.7 522.7 813.9 521.0 814.3 520.8C814.7 520.6 817.7 519.0 818.1 518.6C818.5 518.2 821.4 512.5 821.7 512.5C822.0 512.5 824.2 519.1 824.5 519.2C824.8 519.2 826.6 515.5 826.9 515.3C827.2 515.1 830.5 515.1 830.8 514.8C831.1 514.5 833.2 509.9 833.5 509.2C833.8 508.5 837.3 501.4 837.7 501.2C838.1 501.2 840.5 505.1 840.7 505.1C841.0 505.0 842.5 500.6 842.7 500.1C842.9 499.6 844.7 494.6 844.9 494.6C845.1 494.7 847.4 501.7 847.6 501.7C847.8 501.3 849.4 486.5 849.6 485.8C849.8 485.8 851.8 488.3 852.0 488.5C852.2 488.7 854.2 490.0 854.5 490.0C854.8 489.8 856.8 484.3 857.0 483.6C857.2 482.9 859.0 476.4 859.2 476.4C859.4 476.4 861.5 483.6 861.7 483.8C862.0 483.8 864.0 481.0 864.2 480.3C864.4 479.6 865.6 470.8 865.8 470.3C866.0 469.8 867.8 469.6 868.0 469.5C868.2 469.4 870.4 468.3 870.6 467.6C870.9 466.9 872.8 456.0 873.0 455.5C873.2 455.5 875.2 457.9 875.4 458.2C875.6 458.5 877.7 460.8 877.9 461.5C878.1 462.2 879.8 470.8 880.1 471.4C880.4 472.0 883.6 472.8 884.0 473.1C884.4 473.4 887.0 477.5 887.3 477.5C887.6 477.2 889.3 468.0 889.5 467.0C889.7 466.0 891.6 457.2 891.9 457.1C892.1 457.1 894.3 464.0 894.5 464.3C894.7 464.3 896.5 463.9 896.7 463.7C896.9 463.5 898.8 461.0 899.2 461.0C899.6 461.0 903.5 463.5 903.8 463.5C904.1 463.2 905.2 456.6 905.5 456.0C905.8 455.4 908.5 451.1 908.8 450.5C909.0 449.9 910.3 445.6 910.5 444.5C910.7 443.4 912.5 430.0 912.7 429.1C912.9 428.2 915.2 428.6 915.4 427.4C915.6 426.2 916.9 407.5 917.1 405.9C917.3 404.3 919.4 395.9 919.6 395.5C919.8 395.5 921.7 398.2 922.0 398.2C922.3 397.4 924.5 381.6 924.8 380.1C925.0 378.6 926.8 370.8 927.0 369.1C927.2 367.4 929.0 346.1 929.2 345.9C929.4 345.9 931.5 363.7 931.7 364.7C932.0 365.7 934.0 365.6 934.2 366.3C934.5 367.0 936.5 378.0 936.7 378.4C936.9 378.4 938.6 375.8 938.8 375.1C939.0 374.4 940.8 364.1 941.0 364.1C941.2 364.4 943.3 378.8 943.5 380.1C943.7 381.5 945.2 391.1 945.4 391.1C945.6 391.0 947.4 378.0 947.6 377.9C947.8 377.9 949.9 388.9 950.1 388.9C950.3 388.7 952.0 375.0 952.3 374.0C952.6 373.0 955.4 369.9 955.6 369.1C955.8 368.3 956.9 358.4 957.1 358.1C957.3 358.1 959.5 363.0 959.7 363.0C959.9 362.4 961.5 348.8 961.7 347.0C961.9 345.2 964.0 328.0 964.2 327.8C964.5 327.8 966.3 341.2 966.7 342.6C967.1 344.0 971.1 356.4 971.4 356.4C971.7 356.4 973.3 342.6 973.5 342.6C973.7 343.1 975.8 364.8 976.0 366.9C976.2 369.0 978.2 384.4 978.5 385.1C978.8 385.1 980.8 381.3 981.0 380.1C981.2 378.9 983.0 361.4 983.2 360.8C983.4 360.8 985.5 367.6 985.7 368.0C986.0 368.4 988.0 368.0 988.2 368.5C988.4 369.9 990.2 394.0 990.4 396.0C990.6 398.0 992.4 406.8 992.6 408.1C992.8 409.4 994.8 421.2 995.0 421.4C995.2 421.4 997.2 413.4 997.5 412.5C997.8 411.6 1000.1 404.5 1000.3 402.6C1000.5 400.7 1001.2 376.4 1001.4 374.6C1001.6 372.8 1003.9 369.2 1004.1 366.9C1004.3 364.6 1005.8 330.0 1006.1 327.9C1006.4 325.8 1009.0 325.9 1009.4 325.6C1009.8 325.3 1012.9 321.2 1013.2 321.2C1013.5 321.2 1015.8 325.1 1016.0 325.1C1016.2 324.9 1018.0 317.1 1018.2 316.3C1018.4 315.5 1020.2 309.7 1020.4 309.7C1020.6 309.9 1022.9 320.6 1023.1 320.7C1023.3 320.7 1025.1 311.8 1025.3 310.8C1025.5 309.8 1026.8 300.8 1027.0 300.3C1027.2 300.3 1029.1 301.1 1029.4 301.1C1029.7 300.9 1032.0 297.8 1032.3 295.9C1032.6 294.0 1034.5 266.3 1034.7 263.8C1034.9 261.3 1036.5 245.6 1036.7 245.6C1036.9 245.8 1038.9 265.9 1039.1 267.1C1039.3 268.3 1041.1 270.4 1041.3 270.4C1041.5 270.2 1043.3 264.4 1043.5 263.8C1043.7 263.2 1045.5 259.6 1045.7 259.4C1046.0 259.4 1048.2 259.9 1048.5 259.9C1048.8 258.0 1050.7 222.7 1050.9 221.9C1051.1 221.9 1053.1 241.9 1053.4 244.0C1053.7 246.1 1056.0 262.0 1056.2 263.8C1056.4 265.6 1057.6 279.3 1057.8 279.4C1058.0 279.4 1060.4 266.4 1060.6 264.9C1060.8 263.3 1062.1 250.1 1062.3 248.4C1062.5 246.7 1064.3 233.7 1064.5 231.8C1064.7 229.9 1066.5 212.1 1066.7 211.2C1066.9 211.2 1069.1 213.4 1069.4 213.4C1069.7 212.7 1072.0 198.7 1072.2 196.9C1072.5 195.1 1074.2 178.2 1074.4 177.6C1074.6 177.6 1076.5 184.4 1076.6 184.8"/>
<text class="yl" y="107.4"><tspan x="9.56 22.43">45</tspan><tspan x="34.05" textLength="16.59" lengthAdjust="spacingAndGlyphs">%</tspan></text>
<text class="yl" y="184.2"><tspan x="9.56 22.23">40</tspan><tspan x="34.05" textLength="16.59" lengthAdjust="spacingAndGlyphs">%</tspan></text>
<text class="yl" y="261.2"><tspan x="10.03 22.43">35</tspan><tspan x="34.05" textLength="16.59" lengthAdjust="spacingAndGlyphs">%</tspan></text>
<text class="yl" y="338.2"><tspan x="10.03 22.23">30</tspan><tspan x="34.05" textLength="16.59" lengthAdjust="spacingAndGlyphs">%</tspan></text>
<text class="yl" y="415.2"><tspan x="10.52 22.43">25</tspan><tspan x="34.05" textLength="16.59" lengthAdjust="spacingAndGlyphs">%</tspan></text>
<text class="yl" y="492.2"><tspan x="10.52 22.23">20</tspan><tspan x="34.05" textLength="16.59" lengthAdjust="spacingAndGlyphs">%</tspan></text>
<text class="yl" y="568.2"><tspan x="9.97 22.43">15</tspan><tspan x="34.05" textLength="16.59" lengthAdjust="spacingAndGlyphs">%</tspan></text>
<text class="xl" x="48.85 53.65 66.45" y="594.9">&#39;89</text>
<text class="xl" x="104.89 109.69 122.49" y="594.9">&#39;91</text>
<text class="xl" x="160.93 165.73 178.53" y="594.9">&#39;93</text>
<text class="xl" x="216.97 221.77 234.57" y="594.9">&#39;95</text>
<text class="xl" x="273.01 277.81 290.61" y="594.9">&#39;97</text>
<text class="xl" x="329.05 333.85 346.65" y="594.9">&#39;99</text>
<text class="xl" x="385.09 389.89 402.69" y="594.9">&#39;01</text>
<text class="xl" x="441.13 445.93 458.73" y="594.9">&#39;03</text>
<text class="xl" x="497.17 501.97 514.77" y="594.9">&#39;05</text>
<text class="xl" x="553.21 558.01 570.81" y="594.9">&#39;07</text>
<text class="xl" x="609.25 614.05 626.85" y="594.9">&#39;09</text>
<text class="xl" x="665.29 670.09 682.89" y="594.9">&#39;11</text>
<text class="xl" x="721.33 726.13 738.93" y="594.9">&#39;13</text>
<text class="xl" x="777.37 782.17 794.97" y="594.9">&#39;15</text>
<text class="xl" x="833.41 838.21 851.01" y="594.9">&#39;17</text>
<text class="xl" x="889.45 894.25 907.05" y="594.9">&#39;19</text>
<text class="xl" x="945.49 950.29 963.09" y="594.9">&#39;21</text>
<text class="xl" x="1001.53 1006.33 1019.13" y="594.9">&#39;23</text>
<text class="xl" x="1057.57 1062.37 1075.17" y="594.9">&#39;25</text>
</svg>
</body></html>
